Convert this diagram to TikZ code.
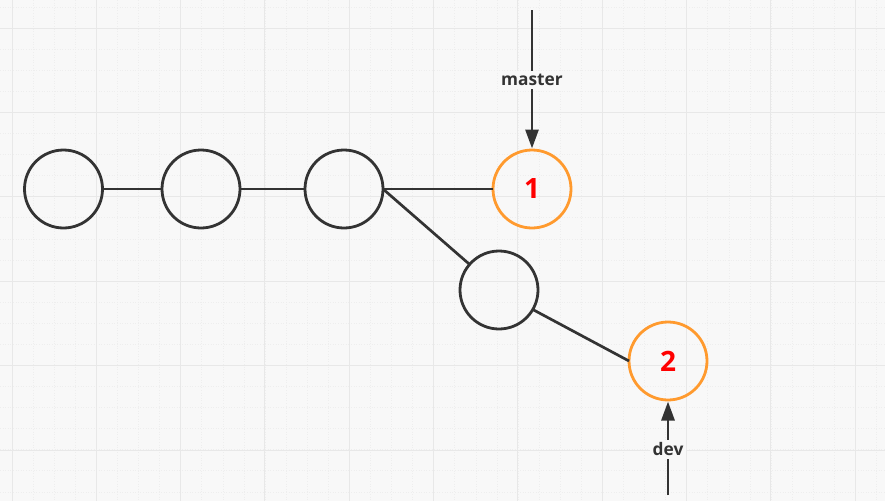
\documentclass[tikz,border=0pt]{standalone}
\usepackage{fontspec}
\setmainfont{Open Sans}
\usetikzlibrary{arrows.meta}
\definecolor{bg}{HTML}{F8F8F8}
\definecolor{gridmaj}{HTML}{E8E8E8}
\definecolor{gridmin}{HTML}{EEEEEE}
\definecolor{ink}{HTML}{333333}
\definecolor{orng}{HTML}{FF9A2E}
\tikzset{
  commit/.style={circle,draw=ink,line width=2.8pt,minimum size=78pt,inner sep=0pt,outer sep=0pt},
  head/.style={commit,draw=orng,text=red,font=\bfseries\fontsize{28}{30}\selectfont},
  edge/.style={draw=ink,line width=2.7pt},
  ptr/.style={draw=ink,line width=2.9pt,-{Triangle[length=19pt,width=13pt]},shorten >=1.5pt},
  lbl/.style={fill=bg,inner sep=3pt,text=ink,font=\bfseries\fontsize{17.3}{19}\selectfont},
}
\begin{document}
\begin{tikzpicture}[x=1pt,y=-1pt]
\useasboundingbox (0,0) rectangle (885,501);
\fill[bg] (0,0) rectangle (885,501);
% minor grid
\foreach \i in {0,...,43} {
  \pgfmathsetmacro\xx{12+21.083*(\i-0)}
  \draw[gridmin,line width=0.6pt,dotted] (\xx,0) -- (\xx,501);
}
\foreach \i in {-1,...,23} {
  \pgfmathsetmacro\yy{28+21.083*\i}
  \draw[gridmin,line width=0.6pt,dotted] (0,\yy) -- (885,\yy);
}
% major grid
\foreach \i in {0,...,10} {
  \pgfmathsetmacro\xx{12+84.33*\i}
  \draw[gridmaj,line width=1pt] (\xx,0) -- (\xx,501);
}
\foreach \i in {0,...,5} {
  \pgfmathsetmacro\yy{28+84.4*\i}
  \draw[gridmaj,line width=1pt] (0,\yy) -- (885,\yy);
}
% commits
\node[commit] (c1) at (63.5,189) {};
\node[commit] (c2) at (201,189) {};
\node[commit] (c3) at (344,189) {};
\node[head]   (c4) at (532,189) {1};
\node[commit] (c5) at (499,290) {};
\node[head]   (c6) at (668,361) {2};
\coordinate (mtop) at (532,10);
\coordinate (dbot) at (668,495);
% edges
\draw[edge] (c1.east) -- (c2.west);
\draw[edge] (c2.east) -- (c3.west);
\draw[edge] (c3.east) -- (c4.west);
\draw[edge] (c3.east) -- (c5);
\draw[edge] (c5.-30) -- (c6.west);
% pointers
\draw[ptr] (mtop) -- node[lbl] {master} (c4.north);
\draw[ptr] (dbot) -- node[lbl,pos=0.48] {dev} (c6.south);
\end{tikzpicture}
\end{document}
